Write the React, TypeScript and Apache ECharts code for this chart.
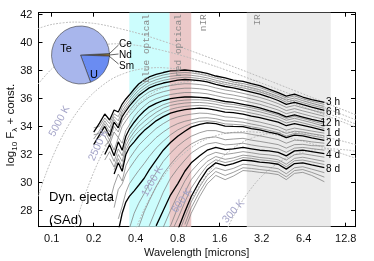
import React, { useEffect, useRef } from 'react';
import * as echarts from 'echarts';

// ---------- data ----------
const WAVELENGTHS = [0.20, 0.22, 0.24, 0.26, 0.28, 0.30, 0.32, 0.34, 0.36, 0.39, 0.42, 0.46, 0.50, 0.56, 0.63, 0.71, 0.80, 0.90, 1.0, 1.15, 1.3, 1.5, 1.75, 2.0, 2.35, 2.7, 3.1, 3.6, 4.2, 4.8, 5.5, 6.3, 7.3, 9.0];
const _ = null;
const SPEC_00 = [33.6, 34.24, 34.89, 34.46, 35.17, 35.03, 35.6, 35.96, 36.24, 36.67, 37.03, 37.31, 37.53, 37.71, 37.85, 37.96, 37.99, 38.03, 37.99, 37.89, 37.78, 37.6, 37.46, 37.31, 37.21, 37.06, 36.92, 36.67, 36.42, 36.17, 36.31, 36.1, 35.92, 35.71];
const SPEC_01 = [33.9, 34.0, 34.6, 34.2, 34.9, 34.7, 35.35, 35.72, 36.03, 36.45, 36.82, 37.1, 37.34, 37.53, 37.67, 37.77, 37.82, 37.85, 37.82, 37.73, 37.62, 37.45, 37.31, 37.17, 37.06, 36.92, 36.78, 36.54, 36.29, 36.03, 36.18, 35.98, 35.8, 35.57];
const SPEC_02 = [33.1, 33.7, 34.4, 33.9, 34.7, 34.4, 35.1, 35.5, 35.82, 36.24, 36.6, 36.9, 37.14, 37.33, 37.48, 37.58, 37.64, 37.68, 37.65, 37.57, 37.47, 37.3, 37.15, 37.03, 36.9, 36.77, 36.62, 36.39, 36.14, 35.88, 36.03, 35.84, 35.65, 35.43];
const SPEC_03 = [33.4, 33.5, 34.2, 33.6, 34.5, 34.1, 34.9, 35.3, 35.63, 36.04, 36.4, 36.7, 36.94, 37.14, 37.29, 37.39, 37.47, 37.51, 37.49, 37.42, 37.33, 37.15, 37.0, 36.89, 36.75, 36.61, 36.46, 36.25, 36.0, 35.73, 35.88, 35.7, 35.52, 35.29];
const SPEC_04 = [32.7, 33.4, 34.0, 33.3, 34.3, 33.9, 34.7, 35.1, 35.45, 35.85, 36.2, 36.5, 36.75, 36.95, 37.1, 37.2, 37.3, 37.35, 37.33, 37.27, 37.18, 37.0, 36.85, 36.75, 36.6, 36.45, 36.3, 36.1, 35.85, 35.58, 35.72, 35.55, 35.38, 35.15];
const SPEC_05 = [_, 33.2, 33.7, 33.0, 34.0, 33.6, 34.4, 34.8, 35.15, 35.55, 35.92, 36.22, 36.47, 36.67, 36.82, 36.92, 37.0, 37.05, 37.04, 36.99, 36.91, 36.75, 36.6, 36.51, 36.36, 36.22, 36.07, 35.87, 35.63, 35.36, 35.5, 35.33, 35.17, 34.93];
const SPEC_06 = [_, _, 33.3, 32.7, 33.6, 33.2, 34.0, 34.4, 34.75, 35.15, 35.55, 35.85, 36.1, 36.32, 36.48, 36.6, 36.68, 36.73, 36.73, 36.69, 36.62, 36.47, 36.33, 36.24, 36.1, 35.96, 35.82, 35.62, 35.4, 35.13, 35.27, 35.11, 34.95, 34.72];
const SPEC_07 = [_, _, 32.6, 33.0, 32.3, 33.2, 32.8, 33.7, 34.1, 34.7, 35.1, 35.45, 35.75, 35.98, 36.15, 36.28, 36.36, 36.42, 36.42, 36.39, 36.33, 36.2, 36.05, 35.98, 35.84, 35.71, 35.58, 35.38, 35.17, 34.91, 35.05, 34.89, 34.72, 34.5];
const SPEC_08 = [_, _, 32.0, 32.7, 31.9, 32.9, 32.3, 33.3, 33.8, 34.3, 34.7, 35.1, 35.4, 35.65, 35.85, 35.98, 36.05, 36.1, 36.1, 36.08, 36.03, 35.92, 35.78, 35.72, 35.58, 35.46, 35.33, 35.13, 34.93, 34.68, 34.82, 34.67, 34.5, 34.3];
const SPEC_09 = [_, _, 31.6, 32.2, 31.5, 32.4, 31.9, 32.9, 33.4, 33.9, 34.3, 34.7, 35.0, 35.3, 35.55, 35.72, 35.82, 35.88, 35.9, 35.9, 35.86, 35.76, 35.62, 35.57, 35.45, 35.33, 35.2, 35.02, 34.83, 34.58, 34.72, 34.57, 34.4, 34.15];
const SPEC_10 = [_, _, _, 31.7, 31.1, 32.0, 31.5, 32.6, 33.1, 33.6, 34.0, 34.35, 34.65, 35.0, 35.3, 35.5, 35.6, 35.67, 35.7, 35.71, 35.67, 35.58, 35.44, 35.39, 35.28, 35.17, 35.04, 34.87, 34.69, 34.44, 34.58, 34.43, 34.27, 34.0];
const SPEC_11 = [_, _, _, _, 30.9, 31.7, 31.1, 32.3, 32.8, 33.3, 33.65, 34.0, 34.3, 34.7, 35.0, 35.22, 35.35, 35.43, 35.47, 35.5, 35.47, 35.37, 35.23, 35.18, 35.08, 34.95, 34.83, 34.67, 34.5, 34.25, 34.39, 34.25, 34.09, 33.85];
const SPEC_12 = [_, _, _, _, 30.6, 31.4, 30.8, 32.0, 32.5, 32.9, 33.3, 33.7, 34.0, 34.4, 34.7, 34.95, 35.1, 35.2, 35.25, 35.3, 35.27, 35.17, 35.02, 34.98, 34.88, 34.74, 34.63, 34.47, 34.3, 34.05, 34.2, 34.08, 33.93, 33.7];
const SPEC_13 = [_, _, _, 28.6, 29.8, 30.6, 30.1, 31.2, 31.7, 32.2, 32.65, 33.05, 33.4, 33.85, 34.2, 34.5, 34.68, 34.8, 34.88, 34.95, 34.93, 34.83, 34.68, 34.64, 34.55, 34.42, 34.31, 34.15, 33.98, 33.73, 33.88, 33.78, 33.67, 33.52];
const SPEC_14 = [_, _, _, _, 28.2, 29.5, 29.9, 30.6, 31.0, 31.5, 31.95, 32.35, 32.7, 33.2, 33.6, 33.95, 34.2, 34.37, 34.47, 34.6, 34.62, 34.55, 34.4, 34.37, 34.3, 34.17, 34.06, 33.91, 33.75, 33.5, 33.66, 33.6, 33.48, 33.33];
const SPEC_15 = [_, _, _, _, _, 27.4, 28.3, 29.3, 29.9, 30.4, 30.85, 31.35, 31.85, 32.45, 32.95, 33.4, 33.75, 34.0, 34.2, 34.36, 34.4, 34.34, 34.18, 34.15, 34.1, 33.97, 33.87, 33.72, 33.56, 33.31, 33.5, 33.45, 33.33, 33.17];
const SPEC_16 = [_, _, _, _, _, 26.5, 27.8, 28.6, 29.0, 29.4, 29.8, 30.3, 30.9, 31.6, 32.3, 32.85, 33.3, 33.65, 33.95, 34.15, 34.25, 34.2, 34.02, 34.0, 33.98, 33.85, 33.75, 33.6, 33.45, 33.2, 33.38, 33.32, 33.18, 33.0];
const SPEC_17 = [_, _, _, _, _, _, _, _, 26.7, 27.8, 28.5, 29.2, 29.9, 30.7, 31.5, 32.1, 32.6, 33.0, 33.3, 33.55, 33.7, 33.7, 33.52, 33.55, 33.55, 33.43, 33.33, 33.2, 33.06, 32.8, 33.02, 33.0, 32.9, 32.8];
const SPEC_18 = [_, _, _, _, _, _, _, _, _, _, 26.8, 27.9, 28.7, 29.7, 30.6, 31.3, 31.9, 32.4, 32.75, 33.05, 33.2, 33.25, 33.05, 33.1, 33.15, 33.02, 32.93, 32.82, 32.7, 32.45, 32.7, 32.72, 32.63, 32.6];
const SPEC_19 = [_, _, _, _, _, _, _, _, _, _, _, _, 26.9, 28.1, 29.3, 30.3, 31.0, 31.6, 32.1, 32.5, 32.75, 32.85, 32.68, 32.72, 32.8, 32.68, 32.58, 32.5, 32.4, 32.15, 32.45, 32.5, 32.42, 32.3];
const SPEC_20 = [_, _, _, _, _, _, _, _, _, _, _, _, _, 26.9, 28.0, 29.1, 29.9, 30.8, 31.4, 31.9, 32.3, 32.5, 32.35, 32.4, 32.5, 32.4, 32.3, 32.25, 32.15, 31.9, 32.25, 32.3, 32.2, 32.05];
const SPEC_21 = [_, _, _, _, _, _, _, _, _, _, _, _, _, _, 26.8, 28.0, 29.1, 30.1, 30.8, 31.45, 31.9, 32.15, 32.0, 32.08, 32.2, 32.12, 32.02, 31.97, 31.88, 31.6, 31.98, 32.05, 31.95, 31.8];
const SPEC_22 = [_, _, _, _, _, _, _, _, _, _, _, _, _, _, _, 26.9, 28.2, 29.3, 30.2, 30.95, 31.5, 31.85, 31.65, 31.75, 31.95, 31.88, 31.78, 31.72, 31.62, 31.3, 31.72, 31.8, 31.68, 31.5];
const SPEC_23 = [_, _, _, _, _, _, _, _, _, _, _, _, _, _, _, 26.3, 27.4, 28.6, 29.6, 30.5, 31.2, 31.62, 31.42, 31.55, 31.78, 31.72, 31.62, 31.56, 31.46, 31.12, 31.55, 31.6, 31.47, 31.28];
const SPEC_24 = [_, _, _, _, _, _, _, _, _, _, _, _, _, _, _, _, 26.6, 27.9, 29.0, 30.1, 30.9, 31.4, 31.2, 31.35, 31.6, 31.55, 31.45, 31.4, 31.3, 30.95, 31.35, 31.4, 31.25, 31.05];
const SPEC_25 = [_, _, _, _, _, _, _, _, _, _, _, _, _, _, _, _, 26.2, 27.5, 28.6, 29.7, 30.5, 31.05, 30.85, 31.0, 31.3, 31.25, 31.15, 31.08, 30.98, 30.62, 31.05, 31.12, 30.95, 30.7];
const SPEC_26 = [_, _, _, _, _, _, _, _, _, _, _, _, _, _, _, _, _, 27.0, 28.2, 29.35, 30.2, 30.78, 30.5, 30.72, 31.05, 31.0, 30.92, 30.85, 30.75, 30.4, 30.85, 30.92, 30.72, 30.38];
const SPEC_27 = [_, _, _, _, _, _, _, _, _, _, _, _, _, _, _, _, _, 26.6, 27.8, 29.0, 29.9, 30.5, 30.2, 30.45, 30.85, 30.8, 30.72, 30.66, 30.56, 30.2, 30.65, 30.72, 30.5, 30.05];
const SPECTRA = [SPEC_00, SPEC_01, SPEC_02, SPEC_03, SPEC_04, SPEC_05, SPEC_06, SPEC_07, SPEC_08, SPEC_09, SPEC_10, SPEC_11, SPEC_12, SPEC_13, SPEC_14, SPEC_15, SPEC_16, SPEC_17, SPEC_18, SPEC_19, SPEC_20, SPEC_21, SPEC_22, SPEC_23, SPEC_24, SPEC_25, SPEC_26, SPEC_27];
const LABELLED_SPECTRA = [0, 4, 8, 12, 16, 20, 24];
const EPOCH_LABELS = ['3 h', '6 h', '12 h', '1 d', '2 d', '4 d', '8 d'];
const EPOCH_LABEL_LEVELS = [35.78, 35.04, 34.3, 33.59, 32.87, 31.96, 30.96];
const EPOCH_LABEL_UM = 11.65;

// blackbody reference curves [wavelength (micron), log10 F]
const BB_20000 = [[0.08, 40.99], [0.1, 41.28], [0.145, 41.45], [0.2, 41.36], [0.25, 41.19], [0.375, 40.77], [0.5, 40.41], [0.75, 39.83], [1.0, 39.39], [1.5, 38.74], [2.5, 37.9], [3.75, 37.21], [5, 36.72], [7.5, 36.03], [10, 35.54], [15, 34.84]];
const BB_10000 = [[0.08, 37.04], [0.1, 38.11], [0.125, 38.88], [0.15, 39.32], [0.2, 39.73], [0.29, 39.9], [0.4, 39.8], [0.5, 39.64], [0.75, 39.22], [1.0, 38.86], [1.5, 38.28], [2, 37.84], [3, 37.19], [5, 36.35], [7.5, 35.66], [10, 35.17], [15, 34.48]];
const BB_5000 = [[0.08, 29.03], [0.09, 30.51], [0.1, 31.67], [0.11, 32.6], [0.12, 33.36], [0.14, 34.51], [0.17, 35.66], [0.2, 36.41], [0.25, 37.18], [0.3, 37.62], [0.4, 38.03], [0.58, 38.2], [0.8, 38.1], [1.0, 37.94], [1.5, 37.52], [2, 37.16], [3, 36.58], [4, 36.14], [6, 35.49], [10, 34.65], [15, 33.96]];
const BB_2500 = [[0.14, 26.15], [0.16, 28.09], [0.18, 29.57], [0.2, 30.73], [0.22, 31.66], [0.24, 32.42], [0.28, 33.57], [0.34, 34.72], [0.4, 35.47], [0.5, 36.24], [0.6, 36.68], [0.8, 37.09], [1.16, 37.26], [1.6, 37.17], [2.0, 37.0], [3.0, 36.58], [4, 36.22], [6, 35.64], [8, 35.2], [12, 34.55], [15, 34.18]];
const BB_1200 = [[0.375, 25.94], [0.417, 27.1], [0.458, 28.03], [0.5, 28.79], [0.583, 29.94], [0.708, 31.09], [0.833, 31.84], [1.042, 32.61], [1.25, 33.05], [1.667, 33.46], [2.42, 33.63], [3.33, 33.54], [4.17, 33.37], [6.25, 32.95], [8.33, 32.59], [12.5, 32.0], [15, 31.73]];
const BB_600 = [[0.75, 25.91], [0.833, 27.07], [0.917, 28.0], [1.0, 28.76], [1.167, 29.91], [1.417, 31.06], [1.667, 31.81], [2.083, 32.58], [2.5, 33.02], [3.33, 33.43], [4.83, 33.6], [6.67, 33.5], [8.33, 33.34], [12.5, 32.92], [15, 32.7]];
const BB_300 = [[1.5, 24.71], [1.667, 25.87], [1.833, 26.8], [2.0, 27.56], [2.333, 28.71], [2.833, 29.86], [3.333, 30.61], [4.167, 31.38], [5.0, 31.82], [6.667, 32.23], [9.67, 32.4], [13.33, 32.31], [15, 32.23]];
const BB_CURVES = [BB_20000, BB_10000, BB_5000, BB_2500, BB_1200, BB_600, BB_300];
const BB_LABELS = ['5000 K', '2500 K', '1200 K', '600 K', '300 K'];
const BB_LABEL_POS = [[0.1128, 34.39], [0.2144, 32.67], [0.5235, 30.1], [0.845, 28.74], [1.998, 27.96]];
const BB_LABEL_ANGLE = [62, 65, 60, 55, 48];

const BAND_RANGES = [[0.36, 0.7], [0.7, 1.0], [2.5, 10.0]];
const BAND_NAMES = ['blue optical', 'red optical', 'nIR', 'IR'];
const BAND_NAME_UM = [0.48, 0.81, 1.23, 3.0];

const X_TICKS = [0.1, 0.2, 0.4, 0.8, 1.6, 3.2, 6.4, 12.8];
const Y_TICKS = [28, 30, 32, 34, 36, 38, 40, 42];
const X_RANGE_UM = [0.0804, 14.92];
const Y_RANGE = [26.84, 42.12];

const PIE_NAMES = ['Ce', 'Nd', 'Sm', 'U', 'Te'];
const PIE_VALUES = [0.4, 0.6, 0.5, 18.7, 79.8];

// ---------- styling ----------
const FONT = "'Liberation Sans', Arial, Helvetica, sans-serif";
const MONO = "'Liberation Mono', 'DejaVu Sans Mono', monospace";
const BAND_COLORS = ['#ccfdfd', '#ebc9c9', '#ebebeb'];
const PIE_COLORS = ['#2f5e1e', '#efc426', '#e07d1c', '#6a8cf2', '#a8b6ec'];

const toX = (um: number) => Math.log2(um / 0.1);

export default function App() {
  const ref = useRef<HTMLDivElement>(null);

  useEffect(() => {
    const el = ref.current;
    if (!el) return;
    const chart = echarts.init(el, null, { renderer: 'svg' });

    const xMin = toX(X_RANGE_UM[0]);
    const xMax = toX(X_RANGE_UM[1]);
    const xTickVals = X_TICKS.map(toX);
    const xLabelMap: Record<string, string> = {};
    X_TICKS.forEach((t) => { xLabelMap[toX(t).toFixed(4)] = String(t); });

    const axisLine = { show: true, onZero: false, lineStyle: { color: '#000', width: 1 } };
    const tick = (vals: number[]) => ({ show: true, inside: true, length: 4, customValues: vals, lineStyle: { color: '#000', width: 1 } });

    const bbSeries = BB_CURVES.map((c) => ({
      type: 'line', z: 2, silent: true, symbol: 'none', smooth: 0.3,
      data: c.map(([um, v]) => [toX(um), v]),
      lineStyle: { color: '#b9b9b9', width: 1, type: [1, 2.2], cap: 'round' },
    }));

    const specSeries = SPECTRA.map((vals, i) => {
      const thick = LABELLED_SPECTRA.includes(i);
      const data: number[][] = [];
      WAVELENGTHS.forEach((w, j) => { const v = vals[j]; if (v != null) data.push([toX(w), v]); });
      return {
        type: 'line', silent: true, symbol: 'none', z: thick ? 4 : 3, data,
        lineStyle: { color: thick ? '#000' : '#7d7d7d', width: thick ? 1.3 : 0.75 },
      };
    });

    const bandSeries = {
      type: 'line', data: [], z: 1, silent: true,
      markArea: {
        silent: true,
        data: BAND_RANGES.map((r, i) => [
          { xAxis: toX(r[0]), itemStyle: { color: BAND_COLORS[i], opacity: 1 } },
          { xAxis: toX(r[1]) },
        ]),
      },
    };

    const option: any = {
      animation: false,
      textStyle: { fontFamily: FONT },
      grid: { left: 38.5, right: 19, top: 12.7, bottom: 34.3, containLabel: false, outerBoundsMode: 'none' },
      xAxis: [
        {
          type: 'value', min: xMin, max: xMax, position: 'bottom',
          axisLine, axisTick: tick(xTickVals), splitLine: { show: false },
          axisLabel: {
            customValues: xTickVals, margin: 6, color: '#111', fontSize: 11, fontFamily: FONT,
            formatter: (v: number) => xLabelMap[v.toFixed(4)] ?? '',
          },
        },
        {
          type: 'value', min: xMin, max: xMax, position: 'top',
          axisLine, axisTick: tick(xTickVals), splitLine: { show: false }, axisLabel: { show: false },
        },
      ],
      yAxis: [
        {
          type: 'value', min: Y_RANGE[0], max: Y_RANGE[1], position: 'left',
          axisLine, axisTick: tick(Y_TICKS), splitLine: { show: false },
          axisLabel: { customValues: Y_TICKS, margin: 6, color: '#111', fontSize: 11, fontFamily: FONT, formatter: (v: number) => String(Math.round(v)) },
        },
        {
          type: 'value', min: Y_RANGE[0], max: Y_RANGE[1], position: 'right',
          axisLine, axisTick: tick(Y_TICKS), splitLine: { show: false }, axisLabel: { show: false },
        },
      ],
      series: [
        bandSeries,
        ...bbSeries,
        ...specSeries,
        {
          type: 'pie', center: [80.5, 55], radius: 29, startAngle: 3, clockwise: true, silent: true, z: 6,
          label: { show: false }, labelLine: { show: false },
          itemStyle: { borderColor: '#3a3a3a', borderWidth: 0.6 },
          data: PIE_NAMES.map((n, i) => ({ name: n, value: PIE_VALUES[i], itemStyle: { color: PIE_COLORS[i] } })),
        },
      ],
    };
    chart.setOption(option);

    const P = (um: number, v: number) => chart.convertToPixel({ gridIndex: 0 }, [toX(um), v]) as number[];
    const top = P(1, Y_RANGE[1])[1];
    const g: any[] = [];

    BAND_NAMES.forEach((name, i) => {
      const [x] = P(BAND_NAME_UM[i], 40);
      g.push({
        type: 'text', x, y: top + 1.5, rotation: Math.PI / 2, z: 5, silent: true,
        style: { text: name, font: `9.5px ${MONO}`, fill: '#8a8a8a', align: 'right', verticalAlign: 'middle' },
      });
    });

    BB_LABELS.forEach((name, i) => {
      const [x, y] = P(BB_LABEL_POS[i][0], BB_LABEL_POS[i][1]);
      g.push({
        type: 'text', x, y, rotation: (BB_LABEL_ANGLE[i] * Math.PI) / 180, z: 5, silent: true,
        style: { text: name, font: `10.5px ${FONT}`, fill: '#a4a4c8', align: 'center', verticalAlign: 'middle' },
      });
    });

    EPOCH_LABELS.forEach((name, i) => {
      const [x, y] = P(EPOCH_LABEL_UM, EPOCH_LABEL_LEVELS[i]);
      g.push({
        type: 'text', x, y, z: 7, silent: true,
        style: { text: name, font: `10px ${FONT}`, fill: '#000', align: 'right', verticalAlign: 'middle', lineHeight: 9 },
      });
    });

    // pie labels
    g.push({ type: 'text', x: 66, y: 48, z: 8, silent: true, style: { text: 'Te', font: `11px ${FONT}`, fill: '#000', align: 'center', verticalAlign: 'middle' } });
    g.push({ type: 'text', x: 94, y: 74, z: 8, silent: true, style: { text: 'U', font: `11px ${FONT}`, fill: '#000', align: 'center', verticalAlign: 'middle' } });
    const leader = [[[109, 54], [118.5, 45]], [[109.5, 55], [118.5, 54]], [[109, 56], [118.5, 64]]];
    const small = ['Ce', 'Nd', 'Sm'];
    const smallY = [43.5, 54.2, 65.3];
    small.forEach((s, i) => {
      g.push({ type: 'polyline', z: 8, silent: true, shape: { points: leader[i] }, style: { stroke: '#222', lineWidth: 0.7, fill: null } });
      g.push({ type: 'text', x: 119, y: smallY[i], z: 8, silent: true, style: { text: s, font: `10px ${FONT}`, fill: '#000', align: 'left', verticalAlign: 'middle', lineHeight: 9 } });
    });

    // model annotation
    g.push({ type: 'text', x: 49, y: 196, z: 8, silent: true, style: { text: 'Dyn. ejecta', font: `13px ${FONT}`, fill: '#000', align: 'left', verticalAlign: 'middle' } });
    g.push({ type: 'text', x: 49, y: 219, z: 8, silent: true, style: { text: '(SAd)', font: `13px ${FONT}`, fill: '#000', align: 'left', verticalAlign: 'middle' } });

    // axis titles
    g.push({ type: 'text', x: 196.7, y: 251.5, silent: true, style: { text: 'Wavelength [microns]', font: `11px ${FONT}`, fill: '#111', align: 'center', verticalAlign: 'middle' } });
    g.push({
      type: 'text', x: 10, y: 125, rotation: Math.PI / 2, silent: true,
      style: {
        text: '{a|log}{s|10}{a| F}{s|λ}{a| + const.}', align: 'center', verticalAlign: 'middle',
        rich: {
          a: { fontSize: 11.5, fontFamily: FONT, fill: '#111', lineHeight: 16 },
          s: { fontSize: 8, fontFamily: FONT, fill: '#111', lineHeight: 8, verticalAlign: 'bottom' },
        },
      },
    });

    chart.setOption({ graphic: g });
    return () => chart.dispose();
  }, []);

  return <div ref={ref} style={{ position: 'fixed', left: 0, top: 0, width: 374, height: 261 }} />;
}
